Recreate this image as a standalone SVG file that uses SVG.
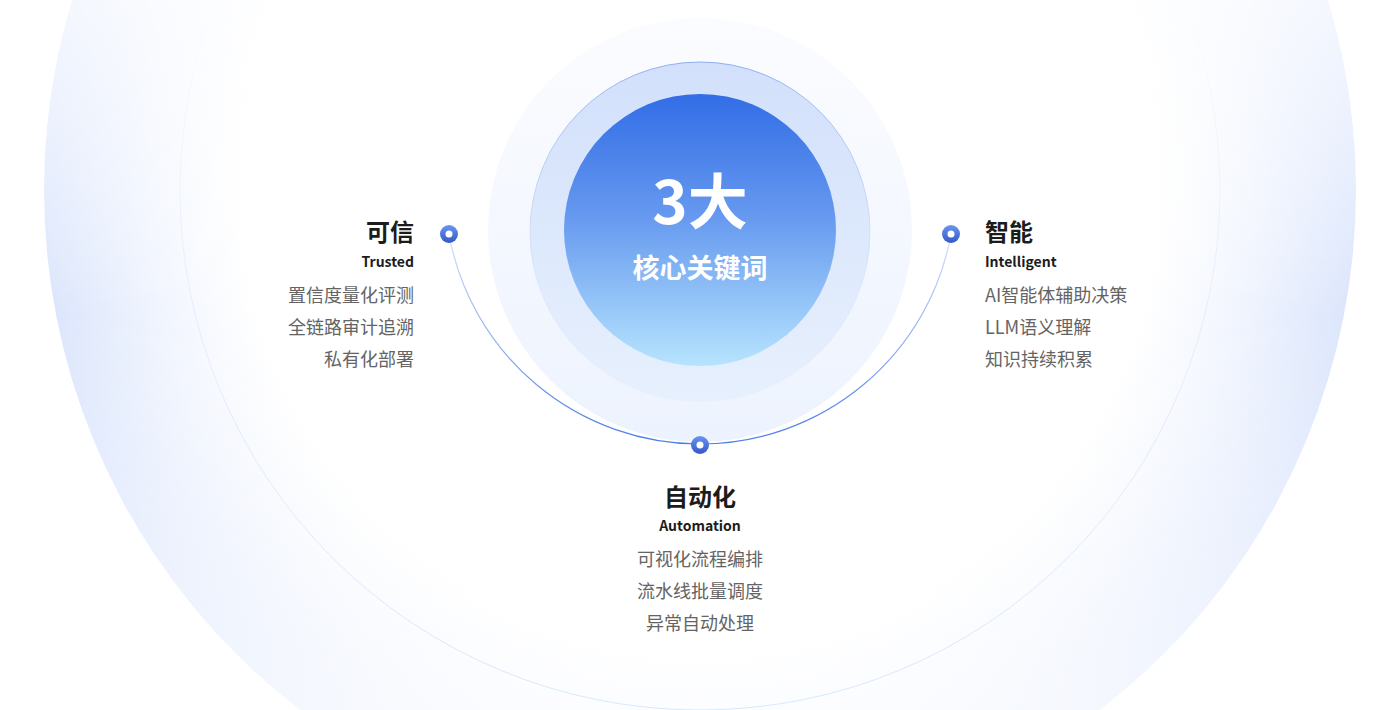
<svg xmlns="http://www.w3.org/2000/svg" width="1400" height="710" viewBox="0 0 1400 710">
<style>
text{font-family:"Noto Sans CJK SC","Noto Sans",sans-serif}
.title{font-size:24px;font-weight:700;fill:#1c1c1c}
.sub{font-size:14px;font-weight:700;fill:#1c1c1c}
.item{font-size:18px;font-weight:400;fill:#646464}
.center{fill:#ffffff;font-weight:700;text-anchor:middle}
</style>
<defs>
<radialGradient id="bgRad" gradientUnits="userSpaceOnUse" cx="700" cy="190" r="656">
<stop offset="0" stop-color="#ffffff"/>
<stop offset="0.7" stop-color="#ffffff"/>
<stop offset="0.84" stop-color="#f1f5fe"/>
<stop offset="1" stop-color="#dce6fc"/>
</radialGradient>
<linearGradient id="fadeV" gradientUnits="userSpaceOnUse" x1="0" y1="0" x2="0" y2="710">
<stop offset="0" stop-color="#fff" stop-opacity="0.3"/>
<stop offset="0.44" stop-color="#fff" stop-opacity="1"/>
<stop offset="1" stop-color="#fff" stop-opacity="0.3"/>
</linearGradient>
<mask id="bgMask" maskUnits="userSpaceOnUse" x="0" y="0" width="1400" height="710">
<rect x="0" y="0" width="1400" height="710" fill="url(#fadeV)"/>
</mask>
<linearGradient id="thinStroke" gradientUnits="userSpaceOnUse" x1="0" y1="0" x2="0" y2="710">
<stop offset="0" stop-color="#dbe7fb" stop-opacity="0"/>
<stop offset="0.4" stop-color="#dbe7fb" stop-opacity="0.6"/>
<stop offset="1" stop-color="#d6e8fb" stop-opacity="1"/>
</linearGradient>
<linearGradient id="halo" x1="0" y1="0" x2="0" y2="1">
<stop offset="0" stop-color="#fbfcff"/>
<stop offset="1" stop-color="#edf3fe"/>
</linearGradient>
<linearGradient id="ring" x1="0" y1="0" x2="0" y2="1">
<stop offset="0" stop-color="#d2e0fb"/>
<stop offset="1" stop-color="#e7f0fd"/>
</linearGradient>
<linearGradient id="ringStroke" x1="0" y1="0" x2="0" y2="1">
<stop offset="0" stop-color="#8eaeee"/>
<stop offset="0.6" stop-color="#c9daf8" stop-opacity="0.5"/>
<stop offset="1" stop-color="#e6effd" stop-opacity="0"/>
</linearGradient>
<linearGradient id="core" x1="0" y1="0" x2="0" y2="1">
<stop offset="0" stop-color="#326de6"/>
<stop offset="0.45" stop-color="#6699ef"/>
<stop offset="1" stop-color="#b6e4fe"/>
</linearGradient>
<linearGradient id="arcGrad" gradientUnits="userSpaceOnUse" x1="0" y1="234" x2="0" y2="445">
<stop offset="0" stop-color="#d3e1fa"/>
<stop offset="1" stop-color="#4a7ce8"/>
</linearGradient>
<linearGradient id="dotGrad" x1="0" y1="0" x2="0" y2="1">
<stop offset="0" stop-color="#6a95f2"/>
<stop offset="1" stop-color="#3458c6"/>
</linearGradient>
</defs>

<g id="background">
<circle cx="700" cy="190" r="656" fill="url(#bgRad)" mask="url(#bgMask)"/>
<circle cx="700" cy="190" r="520" fill="none" stroke="url(#thinStroke)" stroke-width="1"/>
</g>

<g id="core-node">
<circle cx="700" cy="230" r="212" fill="url(#halo)"/>
<circle cx="700" cy="232" r="170" fill="url(#ring)" stroke="url(#ringStroke)" stroke-width="1"/>
<circle cx="700" cy="230" r="136" fill="url(#core)"/>
<text class="center" x="700" y="224" font-size="60">3大</text>
<text class="center" x="700" y="278" font-size="27">核心关键词</text>
</g>

<g id="connectors">
<path d="M 449 234 A 255 255 0 0 0 951 234" fill="none" stroke="url(#arcGrad)" stroke-width="1.2"/>
</g>

<g id="node-trusted">
<circle cx="449" cy="234" r="9" fill="url(#dotGrad)"/>
<circle cx="449" cy="234" r="3.5" fill="#ffffff"/>
<text class="title" x="414" y="241" text-anchor="end">可信</text>
<text class="sub" x="414" y="267" text-anchor="end">Trusted</text>
<text class="item" x="414" y="302" text-anchor="end">置信度量化评测</text>
<text class="item" x="414" y="334" text-anchor="end">全链路审计追溯</text>
<text class="item" x="414" y="366" text-anchor="end">私有化部署</text>
</g>

<g id="node-intelligent">
<circle cx="951" cy="234" r="9" fill="url(#dotGrad)"/>
<circle cx="951" cy="234" r="3.5" fill="#ffffff"/>
<text class="title" x="985" y="241">智能</text>
<text class="sub" x="985" y="267">Intelligent</text>
<text class="item" x="985" y="302">AI智能体辅助决策</text>
<text class="item" x="985" y="334">LLM语义理解</text>
<text class="item" x="985" y="366">知识持续积累</text>
</g>

<g id="node-automation">
<circle cx="700" cy="445" r="9" fill="url(#dotGrad)"/>
<circle cx="700" cy="445" r="3.5" fill="#ffffff"/>
<text class="title" x="700" y="506" text-anchor="middle">自动化</text>
<text class="sub" x="700" y="531" text-anchor="middle">Automation</text>
<text class="item" x="700" y="566" text-anchor="middle">可视化流程编排</text>
<text class="item" x="700" y="598" text-anchor="middle">流水线批量调度</text>
<text class="item" x="700" y="630" text-anchor="middle">异常自动处理</text>
</g>
</svg>
